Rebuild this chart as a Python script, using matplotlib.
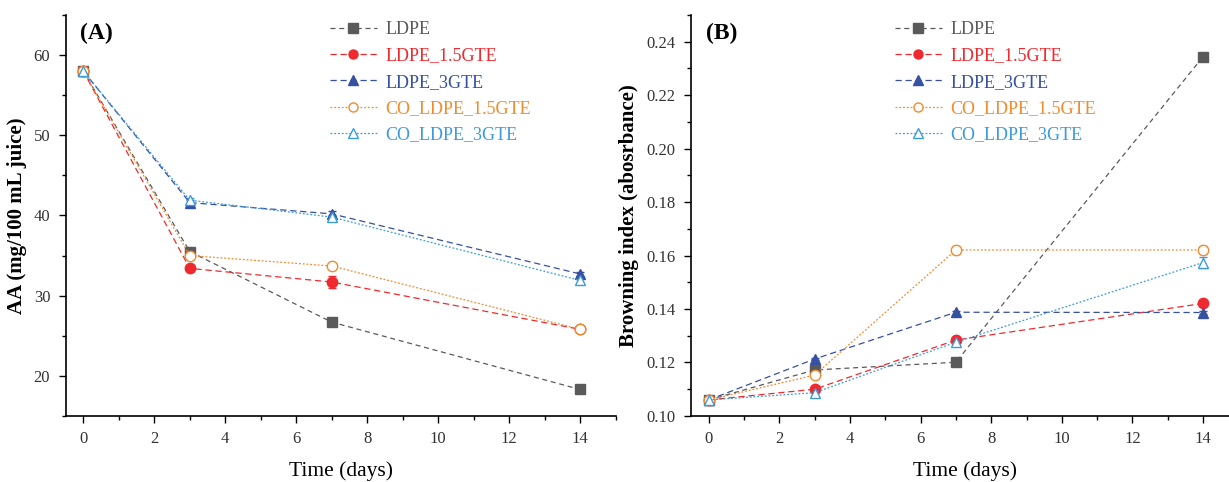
import numpy as np
import matplotlib
matplotlib.use("Agg")
import matplotlib.pyplot as plt
from matplotlib.ticker import MultipleLocator
from matplotlib.lines import Line2D

plt.rcParams['font.family'] = ['Liberation Serif', 'DejaVu Serif']

# sampling days
days = [0, 3, 7, 14]

# (A) ascorbic acid, mg/100 mL juice
aa_ldpe = [58.0, 35.5, 26.7, 18.3]
aa_ldpe15 = [58.0, 33.4, 31.7, 25.8]
aa_ldpe3 = [58.0, 41.6, 40.2, 32.7]
aa_co15 = [58.0, 35.0, 33.7, 25.8]
aa_co3 = [58.0, 41.9, 39.8, 31.9]
aa_err_ldpe = [0.3, 0.3, 0.3, 0.3]
aa_err_ldpe15 = [0.3, 0.3, 0.7, 0.3]
aa_err_ldpe3 = [0.2, 0.3, 0.3, 0.3]
aa_err_co15 = [0.3, 0.4, 0.3, 0.3]
aa_err_co3 = [0.3, 0.3, 0.3, 0.3]

# (B) browning index, absorbance
bi_ldpe = [0.106, 0.1172, 0.1201, 0.2344]
bi_ldpe15 = [0.106, 0.110, 0.1284, 0.1421]
bi_ldpe3 = [0.106, 0.1213, 0.1388, 0.1387]
bi_co15 = [0.106, 0.1153, 0.1621, 0.1621]
bi_co3 = [0.106, 0.1087, 0.1276, 0.1574]
bi_err_ldpe = [0.0005, 0.0005, 0.0005, 0.0005]
bi_err_ldpe15 = [0.0005, 0.0008, 0.0008, 0.0008]
bi_err_ldpe3 = [0.0005, 0.0005, 0.0005, 0.0005]
bi_err_co15 = [0.0005, 0.0012, 0.0015, 0.0015]
bi_err_co3 = [0.0005, 0.0008, 0.0008, 0.0020]

names = ["LDPE", "LDPE_1.5GTE", "LDPE_3GTE", "CO_LDPE_1.5GTE", "CO_LDPE_3GTE"]
colors = ["#5a5a5a", "#ee2a2e", "#3650a2", "#f28a2e", "#3c9bdc"]
markers = ["s", "o", "^", "o", "^"]
filled = [True, True, True, False, False]
dashes = [(4, 3), (5, 3), (5, 3), (1.5, 1.5), (1.5, 1.5)]

fig = plt.figure(figsize=(12.29, 4.82), dpi=100)
ax1 = fig.add_axes([0.0533, 0.137, 0.4477, 0.832])
ax2 = fig.add_axes([0.5622, 0.137, 0.4455, 0.832])


def draw(ax, series, errs):
    for i in range(5):
        mfc = colors[i] if filled[i] else "white"
        ax.errorbar(days, series[i], yerr=errs[i], color=colors[i], marker=markers[i],
                    ms=7.5, mfc=mfc, mec=colors[i], mew=1.0, lw=0.9, dashes=dashes[i],
                    capsize=3, elinewidth=0.8, capthick=0.8)


draw(ax1, [aa_ldpe, aa_ldpe15, aa_ldpe3, aa_co15, aa_co3],
     [aa_err_ldpe, aa_err_ldpe15, aa_err_ldpe3, aa_err_co15, aa_err_co3])
draw(ax2, [bi_ldpe, bi_ldpe15, bi_ldpe3, bi_co15, bi_co3],
     [bi_err_ldpe, bi_err_ldpe15, bi_err_ldpe3, bi_err_co15, bi_err_co3])

ax1.set_xlim(-0.5, 15)
ax1.set_ylim(15, 65)
ax1.yaxis.set_major_locator(MultipleLocator(10))
ax1.yaxis.set_minor_locator(MultipleLocator(5))
ax1.set_ylabel("AA (mg/100 mL juice)", fontsize=15, fontweight="bold", labelpad=5)

ax2.set_xlim(-0.5, 15)
ax2.set_ylim(0.10, 0.25)
ax2.yaxis.set_major_locator(MultipleLocator(0.02))
ax2.yaxis.set_minor_locator(MultipleLocator(0.01))
ax2.yaxis.set_major_formatter(plt.FormatStrFormatter("%.2f"))
ax2.set_ylabel("Browning index (abosrbance)", fontsize=15, fontweight="bold", labelpad=5)

handles = []
for i in range(5):
    mfc = colors[i] if filled[i] else "white"
    handles.append(Line2D([], [], color=colors[i], marker=markers[i], ms=6.5, mfc=mfc,
                          mec=colors[i], mew=1.0, lw=0.9, dashes=dashes[i], label=names[i]))

for ax, tag, lx in [(ax1, "(A)", 0.48), (ax2, "(B)", 0.372)]:
    ax.spines["top"].set_visible(False)
    ax.spines["right"].set_visible(False)
    ax.spines["left"].set_linewidth(1.2)
    ax.spines["bottom"].set_linewidth(1.2)
    ax.xaxis.set_major_locator(MultipleLocator(2))
    ax.xaxis.set_minor_locator(MultipleLocator(1))
    ax.tick_params(which="major", direction="out", length=5, width=1, labelsize=12,
                   labelcolor="#333333", pad=6)
    ax.tick_params(which="minor", direction="out", length=3, width=1)
    ax.set_xlabel("Time (days)", fontsize=15.5, labelpad=10)
    ax.text(0.027, 0.955, tag, transform=ax.transAxes, fontsize=17, fontweight="bold",
            va="center", ha="left")
    leg = ax.legend(handles=handles, loc="upper left", bbox_to_anchor=(lx, 0.985),
                    frameon=False, fontsize=13, handlelength=2.6, handletextpad=0.5,
                    labelspacing=0.52, borderpad=0, borderaxespad=0)
    for t, c in zip(leg.get_texts(), colors):
        t.set_color(c)

fig.savefig("out.png", dpi=100)
